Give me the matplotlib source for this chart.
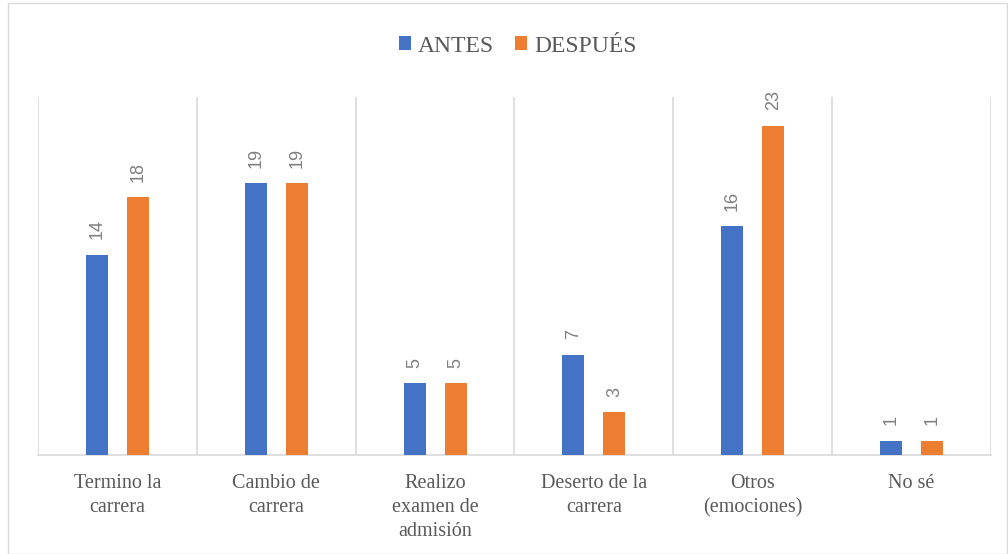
import numpy as np
import matplotlib
matplotlib.use("Agg")
import matplotlib.pyplot as plt
from matplotlib.patches import Rectangle

categories = ["Termino la\ncarrera", "Cambio de\ncarrera", "Realizo\nexamen de\nadmisión",
              "Deserto de la\ncarrera", "Otros\n(emociones)", "No sé"]
antes = [14, 19, 5, 7, 16, 1]
despues = [18, 19, 5, 3, 23, 1]

blue = "#4472C4"
orange = "#ED7D31"
gray_txt = "#595959"
grid_col = "#D9D9D9"

fig = plt.figure(figsize=(10.08, 5.54), dpi=100)
ax = fig.add_axes([38 / 1008, 1 - 455 / 554, (991 - 38) / 1008, (455 - 97) / 554])

x = np.arange(len(categories))
w = 0.138
off = 0.129
b1 = ax.bar(x - off, antes, w, color=blue, label="ANTES", zorder=3)
b2 = ax.bar(x + off, despues, w, color=orange, label="DESPUÉS", zorder=3)

# rotated value labels
for bars in (b1, b2):
    for r in bars:
        ax.annotate(f"{int(r.get_height())}", (r.get_x() + r.get_width() / 2, r.get_height()),
                    xytext=(0, 11), textcoords="offset points", rotation=90,
                    ha="center", va="bottom", fontsize=13, color="#7F7F7F",
                    family="Liberation Sans")

ax.set_xlim(-0.5, len(categories) - 0.5)
ax.set_ylim(0, 25)
ax.set_yticks([])
ax.set_xticks(x)
ax.set_xticklabels(categories, fontsize=14.5, color=gray_txt, family="Liberation Serif",
                   linespacing=1.35)
ax.tick_params(axis="x", length=0, pad=14)
ax.set_xticks(np.arange(-0.5, len(categories)), minor=True)
ax.tick_params(axis="x", which="minor", length=0)
ax.grid(axis="x", which="minor", color=grid_col, linewidth=1.2, zorder=0)
for s in ["top", "left", "right"]:
    ax.spines[s].set_visible(False)
ax.spines["bottom"].set_color(grid_col)
ax.spines["bottom"].set_linewidth(1.2)

fig.legend(loc="center", bbox_to_anchor=(518 / 1008, 1 - 46 / 554), ncol=2, frameon=False,
           prop={"family": "Liberation Serif", "size": 17}, handlelength=0.5, handleheight=0.5,
           handletextpad=0.3, columnspacing=0.9, labelcolor=gray_txt)

fig.patches.append(Rectangle((8 / 1008, 0), 1 - 9 / 1008, 1 - 3 / 554, transform=fig.transFigure,
                             fill=False, edgecolor=grid_col, linewidth=1))

fig.savefig("out.png", dpi=100)
